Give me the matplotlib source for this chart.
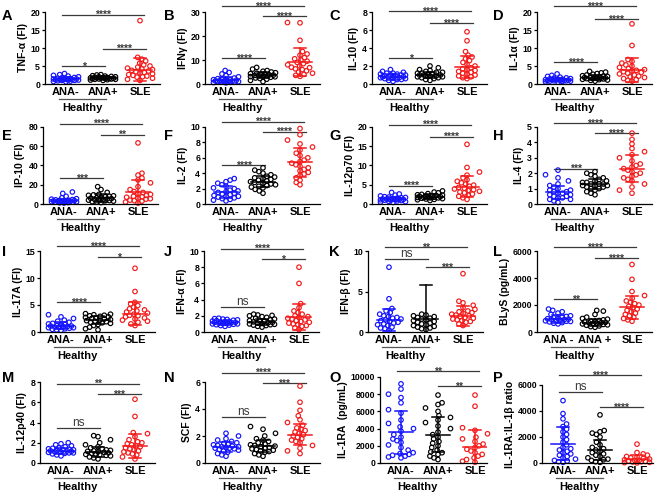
import numpy as np
import matplotlib
matplotlib.use('Agg')
import matplotlib.pyplot as plt

plt.rcParams['font.family'] = ['Liberation Sans', 'DejaVu Sans']
plt.rcParams['font.weight'] = 'bold'

# ---------------- data ----------------
xlabels = ["ANA-", "ANA+", "SLE"]
xlabels_L = ["ANA -", "ANA +", "SLE"]
group_label = "Healthy"

# A TNF-a
tnf_neg = [0.6,0.7,0.8,0.9,1.0,1.0,1.1,1.1,1.2,1.2,1.3,1.3,1.4,1.4,1.5,1.5,1.6,1.7,1.8,2.0,2.2,2.4,2.6,2.9]
tnf_pos = [1.0,1.1,1.2,1.3,1.3,1.4,1.4,1.5,1.5,1.5,1.6,1.6,1.7,1.7,1.8,1.8,1.9,2.0,2.0,2.1,2.2,2.3,2.5,2.6]
tnf_sle = [1.0,1.3,1.6,1.9,2.0,2.2,2.4,2.6,2.8,3.0,3.2,3.4,3.6,3.8,4.0,4.2,4.4,4.7,5.0,5.3,5.8,6.4,6.9,7.4,17.6]
tnf_mean = [1.3, 1.7, 4.0]
tnf_sd = [0.6, 0.4, 3.1]
tnf_sig = ['*', '****', '****']

# B IFN-g
ifng_neg = [0.5,0.6,0.7,0.8,0.9,1.0,1.0,1.1,1.2,1.2,1.3,1.4,1.5,1.6,1.7,1.8,2.0,2.2,2.5,3.0,3.5,4.2,4.8,5.6]
ifng_pos = [1.0,1.5,2.0,2.3,2.5,2.8,3.0,3.1,3.3,3.4,3.5,3.6,3.7,3.8,4.0,4.1,4.3,4.5,4.7,5.0,5.3,5.6,6.2,6.9]
ifng_sle = [3.2,3.6,4.0,4.5,5.0,5.5,6.0,6.3,6.8,7.0,7.5,8.0,8.5,9.0,9.5,10.0,10.5,11.0,12.0,12.5,13.5,18.2,25.5,25.6]
ifng_mean = [1.7, 3.6, 9.0]
ifng_sd = [1.2, 1.3, 5.8]
ifng_sig = ['****', '****', '****']

# C IL-10
il10_neg = [0.3,0.4,0.5,0.5,0.6,0.6,0.7,0.7,0.7,0.8,0.8,0.8,0.9,0.9,1.0,1.0,1.0,1.1,1.1,1.2,1.2,1.3,1.4,1.6]
il10_pos = [0.4,0.5,0.6,0.7,0.7,0.8,0.8,0.9,0.9,0.9,1.0,1.0,1.0,1.1,1.1,1.2,1.2,1.3,1.3,1.4,1.5,1.6,1.8,2.0]
il10_sle = [0.6,0.7,0.8,0.9,1.0,1.1,1.2,1.3,1.4,1.5,1.6,1.7,1.8,2.0,2.2,2.4,2.6,2.8,3.0,3.2,3.6,4.8,5.8]
il10_mean = [0.8, 1.0, 1.9]
il10_sd = [0.3, 0.35, 1.2]
il10_sig = ['*', '****', '****']

# D IL-1a
il1a_neg = [0.5,0.6,0.7,0.8,0.8,0.9,0.9,1.0,1.0,1.0,1.1,1.1,1.2,1.2,1.3,1.3,1.4,1.5,1.6,1.7,1.9,2.1,2.4,2.8]
il1a_pos = [0.8,1.0,1.1,1.2,1.3,1.4,1.5,1.5,1.6,1.6,1.7,1.8,1.8,1.9,2.0,2.1,2.2,2.3,2.5,2.7,2.9,3.1,3.3,3.5]
il1a_sle = [0.8,1.0,1.2,1.5,1.8,2.0,2.2,2.5,2.8,3.0,3.2,3.4,3.6,3.8,4.0,4.3,4.6,5.0,5.3,5.8,6.3,6.8,10.7,16.7]
il1a_mean = [1.2, 1.8, 3.8]
il1a_sd = [0.5, 0.6, 3.3]
il1a_sig = ['****', '****', '****']

# E IP-10
ip10_neg = [1.0,1.3,1.5,1.8,2.0,2.2,2.4,2.5,2.7,2.8,3.0,3.2,3.4,3.6,3.8,4.0,4.3,4.6,5.0,5.5,6.5,8.0,11.0,12.5]
ip10_pos = [1.5,2.0,2.5,3.0,3.3,3.6,4.0,4.3,4.6,5.0,5.3,5.6,6.0,6.5,7.0,7.5,8.0,8.5,9.0,9.5,10.0,12.0,15.0,18.0]
ip10_sle = [1.0,2.0,3.0,3.5,4.0,5.0,5.5,6.0,7.0,7.5,8.0,9.0,10.0,11.0,12.0,13.0,15.0,18.0,22.0,25.0,27.0,30.0,32.0,63.5]
ip10_mean = [3.0, 6.0, 12.0]
ip10_sd = [2.0, 4.0, 12.5]
ip10_sig = ['***', '**', '****']

# F IL-2
il2_neg = [0.4,0.5,0.6,0.7,0.8,0.9,1.0,1.0,1.1,1.2,1.3,1.4,1.5,1.6,1.7,1.8,2.0,2.1,2.3,2.5,2.7,2.9,3.1,3.3]
il2_pos = [1.4,1.7,1.9,2.1,2.2,2.3,2.4,2.5,2.6,2.7,2.8,2.9,3.0,3.1,3.2,3.3,3.4,3.5,3.6,3.8,4.0,4.2,4.4,4.7]
il2_sle = [2.5,2.8,3.1,3.4,3.7,3.9,4.1,4.3,4.5,4.7,4.9,5.1,5.3,5.5,5.7,6.0,6.3,6.6,7.0,7.4,7.8,8.3,9.0,9.8]
il2_mean = [1.6, 2.9, 5.4]
il2_sd = [0.8, 0.7, 1.9]
il2_sig = ['****', '****', '****']

# G IL-12p70
il12p70_neg = [0.4,0.5,0.6,0.7,0.8,0.9,1.0,1.0,1.1,1.1,1.2,1.2,1.3,1.3,1.4,1.5,1.6,1.7,1.8,1.9,2.1,2.3,2.6,3.0]
il12p70_pos = [0.9,1.1,1.2,1.3,1.4,1.5,1.6,1.6,1.7,1.7,1.8,1.8,1.9,2.0,2.0,2.1,2.2,2.3,2.4,2.5,2.7,2.9,3.1,3.4]
il12p70_sle = [1.2,1.6,2.0,2.3,2.6,2.9,3.1,3.3,3.5,3.7,3.9,4.1,4.3,4.6,4.9,5.2,5.5,5.9,6.3,6.8,7.5,8.3,9.5,15.5]
il12p70_mean = [1.3, 1.9, 4.5]
il12p70_sd = [0.6, 0.6, 2.8]
il12p70_sig = ['****', '****', '****']

# H IL-4
il4_neg = [0.1,0.2,0.3,0.3,0.4,0.4,0.5,0.5,0.6,0.6,0.7,0.7,0.8,0.8,0.9,0.9,1.0,1.1,1.2,1.3,1.5,1.7,1.9,2.2]
il4_pos = [0.6,0.7,0.8,0.9,1.0,1.0,1.1,1.1,1.2,1.2,1.2,1.3,1.3,1.3,1.4,1.4,1.5,1.5,1.6,1.7,1.8,1.9,2.0,2.1]
il4_sle = [0.7,0.9,1.1,1.3,1.5,1.6,1.7,1.8,1.9,2.0,2.1,2.2,2.3,2.4,2.5,2.6,2.8,3.0,3.2,3.4,3.6,3.9,4.2,4.6]
il4_mean = [0.75, 1.3, 2.3]
il4_sd = [0.45, 0.3, 0.9]
il4_sig = ['***', '****', '****']

# I IL-17A
il17a_neg = [0.3,0.4,0.5,0.6,0.7,0.8,0.8,0.9,0.9,1.0,1.0,1.1,1.1,1.2,1.3,1.4,1.5,1.6,1.8,2.0,2.2,2.5,2.8,3.2]
il17a_pos = [0.4,0.6,0.9,1.2,1.4,1.6,1.7,1.8,1.9,2.0,2.1,2.2,2.3,2.4,2.5,2.6,2.7,2.8,2.9,3.0,3.1,3.2,3.3,3.4]
il17a_sle = [1.2,1.5,1.8,2.0,2.2,2.4,2.6,2.8,3.0,3.1,3.3,3.5,3.7,3.9,4.1,4.3,4.6,4.9,5.2,5.5,7.5,11.8]
il17a_mean = [1.2, 2.2, 3.4]
il17a_sd = [0.6, 0.7, 2.1]
il17a_sig = ['****', '*', '****']

# J IFN-a
ifna_neg = [0.7,0.8,0.85,0.9,0.95,1.0,1.0,1.05,1.1,1.1,1.15,1.2,1.2,1.25,1.3,1.3,1.35,1.4,1.45,1.5,1.55,1.6,1.65,1.7]
ifna_pos = [0.6,0.7,0.8,0.85,0.9,0.95,1.0,1.05,1.1,1.15,1.2,1.25,1.3,1.35,1.4,1.5,1.6,1.7,1.8,1.9,2.0,2.05,2.1,2.2]
ifna_sle = [0.3,0.5,0.7,0.8,0.9,1.0,1.1,1.2,1.3,1.4,1.5,1.6,1.7,1.8,1.9,2.0,2.2,2.4,2.6,3.0,3.5,6.0,8.0]
ifna_mean = [1.15, 1.25, 1.8]
ifna_sd = [0.25, 0.4, 1.6]
ifna_sig = ['ns', '*', '****']

# K IFN-b
ifnb_neg = [0.2,0.4,0.5,0.6,0.8,0.9,1.0,1.1,1.2,1.3,1.4,1.5,1.6,1.7,1.8,1.9,2.0,2.2,2.4,2.6,2.9,4.1,8.0]
ifnb_pos = [0.3,0.4,0.5,0.6,0.7,0.8,0.9,1.0,1.1,1.2,1.3,1.4,1.5,1.6,1.7,1.8,1.9,2.0,2.1,2.2]
ifnb_sle = [0.8,1.0,1.2,1.3,1.4,1.5,1.6,1.7,1.8,1.9,2.0,2.1,2.2,2.3,2.4,2.5,2.6,2.8,3.0,3.3,3.6,3.8,7.2]
ifnb_mean = [1.5, 1.6, 2.0]
ifnb_sd = [1.4, 4.2, 1.2]
ifnb_sig = ['ns', '***', '**']

# L BLyS
blys_neg = [600,650,700,750,780,800,830,850,880,900,920,950,980,1000,1050,1100,1150,1200,1300,1400,1500,1600,1700]
blys_pos = [350,400,450,500,530,560,600,620,650,680,700,720,750,780,800,850,900,950,1000,1100,1300,1550,1600]
blys_sle = [800,900,1000,1100,1200,1300,1400,1500,1600,1700,1800,1900,2000,2100,2200,2300,2500,2700,3000,3900,5000]
blys_mean = [950, 700, 1850]
blys_sd = [300, 250, 850]
blys_sig = ['**', '****', '****']

# M IL-12p40
il12p40_neg = [0.7,0.8,0.9,0.95,1.0,1.0,1.05,1.1,1.1,1.15,1.2,1.2,1.25,1.3,1.3,1.35,1.4,1.45,1.5,1.6,1.7,1.8,1.9,2.0]
il12p40_pos = [0.4,0.5,0.6,0.7,0.75,0.8,0.85,0.9,0.95,1.0,1.05,1.1,1.15,1.2,1.25,1.3,1.4,1.5,1.6,1.8,2.0,2.3,2.6,2.7]
il12p40_sle = [0.4,0.6,0.8,0.9,1.0,1.1,1.2,1.3,1.4,1.5,1.6,1.7,1.8,1.9,2.0,2.1,2.3,2.6,2.9,3.0,4.6,6.3]
il12p40_mean = [1.2, 1.1, 1.7]
il12p40_sd = [0.3, 0.5, 1.2]
il12p40_sig = ['ns', '***', '**']

# N SCF
scf_neg = [0.5,0.6,0.7,0.8,0.9,0.95,1.0,1.05,1.1,1.1,1.15,1.2,1.2,1.25,1.3,1.35,1.4,1.45,1.5,1.6,1.7,1.8,2.0,2.2]
scf_pos = [0.5,0.6,0.7,0.8,0.85,0.9,0.95,1.0,1.05,1.1,1.15,1.2,1.25,1.3,1.35,1.4,1.5,1.6,1.7,1.8,2.0,2.2,2.5,2.7]
scf_sle = [0.7,0.9,1.1,1.3,1.5,1.6,1.7,1.8,1.9,2.0,2.1,2.2,2.3,2.4,2.5,2.6,2.8,3.0,3.2,3.5,3.9,4.5,5.7]
scf_mean = [1.2, 1.25, 2.1]
scf_sd = [0.35, 0.45, 0.8]
scf_sig = ['ns', '***', '****']

# O IL-1RA
il1ra_neg = [600,700,800,900,1000,1100,1200,1500,1800,2100,2400,2600,2800,3000,3300,3700,4000,4200,4600,5000,5800,6200,7000,7600,8000,8600,9200]
il1ra_pos = [400,600,800,1000,1200,1300,1500,1800,2000,2300,2500,2800,3000,3300,3600,4000,4300,4700,5000,5300,5500,6000,6400,6800,7000,7900]
il1ra_sle = [100,200,400,600,800,1000,1200,1400,1600,1800,2000,2200,2500,2800,3000,3400,3800,4100,6600,7900]
il1ra_mean = [3600, 3300, 1850]
il1ra_sd = [2500, 2000, 1950]
il1ra_sig = [None, '**', '**']

# P IL-1RA:IL-1b ratio
ratio_neg = [50,100,150,200,300,400,500,600,700,800,900,1000,1100,1200,1400,1600,1800,2000,2200,2400,2600,2800,3000,3400,3800,4800]
ratio_pos = [50,100,200,250,300,400,500,600,700,800,900,1000,1100,1200,1400,1600,2000,2200,2300,2400,2500,3700]
ratio_sle = [10,30,50,80,100,120,150,180,200,250,300,350,400,450,500,600,700,800,1450]
ratio_mean = [1500, 1000, 300]
ratio_sd = [1250, 800, 300]
ratio_sig = ['ns', '****', '****']

# ---------------- figure ----------------
W, H = 660, 496
fig = plt.figure(figsize=(W / 100, H / 100), dpi=100)
colors = ['#1414ff', '#000000', '#f41a1a']
sig_color = '#3a3a3a'
UNIT = 37.0


def swarm_offsets(vals, ymax, axh, d=4.4, maxhw_px=12.5):
    """Beeswarm placement in pixel space; returns x offsets in data units."""
    v = np.asarray(vals, float)
    ypx = v / ymax * axh
    order = np.argsort(v, kind='stable')
    px, py = [], []
    xs = np.zeros(len(v))
    side = 1
    for i in order:
        y = ypx[i]
        cands = [0.0]
        for (qx, qy) in zip(px, py):
            dy = abs(qy - y)
            if dy < d:
                dx = np.sqrt(d * d - dy * dy)
                cands += [qx + dx, qx - dx]
        cands = sorted(set(round(c, 3) for c in cands), key=lambda c: (abs(c), -side * c))
        chosen = None
        for c in cands:
            if abs(c) > maxhw_px:
                continue
            if all((c - qx) ** 2 + (y - qy) ** 2 >= d * d - 1e-6 for qx, qy in zip(px, py)):
                chosen = c
                break
        if chosen is None:
            grid = np.linspace(-maxhw_px, maxhw_px, 13)
            best, bestd = 0.0, -1
            for g in grid:
                md = min([(g - qx) ** 2 + (y - qy) ** 2 for qx, qy in zip(px, py)] + [1e9])
                if md > bestd:
                    best, bestd = g, md
            chosen = best
        side = -side
        px.append(chosen)
        py.append(y)
        xs[i] = chosen / UNIT
    return xs


def panel(letter, ylabel, groups, means, sds, sigs, ymax, yticks, left, top, bottom,
          width, bars, letter_xy, xl=xlabels):
    axh = bottom - top
    ax = fig.add_axes([left / W, (H - bottom) / H, width / W, axh / H])
    x0 = -21.0 / UNIT
    ax.set_xlim(x0, x0 + width / UNIT)
    ax.set_ylim(0, ymax)
    for sp in ['top', 'right']:
        ax.spines[sp].set_visible(False)
    for sp in ['left', 'bottom']:
        ax.spines[sp].set_linewidth(0.9)
    ax.set_yticks(yticks)
    ax.set_yticklabels([str(t) for t in yticks], fontsize=6.3, fontweight='bold')
    ax.tick_params(axis='y', length=2.5, width=0.9, pad=1)
    ax.set_xticks([0, 1, 2])
    ax.set_xticklabels(xl, fontsize=8, fontweight='bold')
    ax.tick_params(axis='x', length=0, pad=2)
    ax.set_ylabel(ylabel, fontsize=7.5, fontweight='bold', labelpad=2)
    for gi, vals in enumerate(groups):
        xs = swarm_offsets(vals, ymax, axh) + gi
        ax.scatter(xs, vals, s=10.5, facecolors='none', edgecolors=colors[gi],
                   linewidths=0.85, clip_on=False, zorder=2)
        m, s = means[gi], sds[gi]
        lo = max(0, m - s)
        ax.plot([gi - 0.33, gi + 0.33], [m, m], color=colors[gi], lw=1.1, zorder=3)
        ax.plot([gi, gi], [lo, m + s], color=colors[gi], lw=1.1, zorder=3)
        ax.plot([gi - 0.15, gi + 0.15], [m + s, m + s], color=colors[gi], lw=1.1, zorder=3)
        if m - s > 0:
            ax.plot([gi - 0.15, gi + 0.15], [lo, lo], color=colors[gi], lw=1.1, zorder=3)
    pairs = [(-0.1, 1.05), (1.0, 2.15), (-0.1, 2.1)]
    for (xa, xb), lab, yb in zip(pairs, sigs, bars):
        if lab is None:
            continue
        ax.plot([xa, xb], [yb, yb], color=sig_color, lw=0.9, clip_on=False, zorder=1)
        if lab == 'ns':
            ax.annotate(lab, xy=((xa + xb) / 2, yb), xytext=(0, 1.2), textcoords='offset points',
                        ha='center', va='baseline', fontsize=8.5, fontweight='normal',
                        color=sig_color, annotation_clip=False)
        else:
            ax.annotate(lab, xy=((xa + xb) / 2, yb), xytext=(0, -2.6), textcoords='offset points',
                        ha='center', va='baseline', fontsize=7.5, fontweight='bold',
                        color=sig_color, annotation_clip=False)
    # Healthy bracket
    ax.plot([-0.2, 1.07], [-15.0 / axh, -15.0 / axh], color='#555555', lw=0.9,
            transform=ax.get_xaxis_transform(), clip_on=False)
    ax.text(0.45, -24.0 / axh, group_label, transform=ax.get_xaxis_transform(),
            ha='center', va='center', fontsize=8, fontweight='bold')
    fig.text(letter_xy[0] / W, 1 - letter_xy[1] / H, letter, fontsize=10.5,
             fontweight='bold', ha='left', va='baseline')
    return ax


R1 = (12, 84)
R2 = (127, 204)
R3 = (251, 332)
R4 = (382, 463)

panel('A', 'TNF-α (FI)', [tnf_neg, tnf_pos, tnf_sle], tnf_mean, tnf_sd, tnf_sig,
      20, [0, 5, 10, 15, 20], 45, *R1, 115, [4.9, 9.8, 19.3], (2, 20))
panel('B', 'IFNγ (FI)', [ifng_neg, ifng_pos, ifng_sle], ifng_mean, ifng_sd, ifng_sig,
      30, [0, 10, 20, 30], 205, *R1, 115, [10.8, 28.3, 32.3], (164, 20))
panel('C', 'IL-10 (FI)', [il10_neg, il10_pos, il10_sle], il10_mean, il10_sd, il10_sig,
      8, [0, 2, 4, 6, 8], 372, *R1, 115, [2.9, 6.8, 8.1], (329, 20))
panel('D', 'IL-1α (FI)', [il1a_neg, il1a_pos, il1a_sle], il1a_mean, il1a_sd, il1a_sig,
      20, [0, 5, 10, 15, 20], 537, *R1, 115, [6.0, 18.0, 21.7], (493, 20))

panel('E', 'IP-10 (FI)', [ip10_neg, ip10_pos, ip10_sle], ip10_mean, ip10_sd, ip10_sig,
      80, [0, 20, 40, 60, 80], 43, *R2, 115, [27, 72, 83.5], (2, 140))
panel('F', 'IL-2 (FI)', [il2_neg, il2_pos, il2_sle], il2_mean, il2_sd, il2_sig,
      10, [0, 2, 4, 6, 8, 10], 205, *R2, 115, [5.0, 9.4, 10.7], (164, 140))
panel('G', 'IL-12p70 (FI)', [il12p70_neg, il12p70_pos, il12p70_sle], il12p70_mean, il12p70_sd,
      il12p70_sig, 20, [0, 5, 10, 15, 20], 372, *R2, 115, [4.8, 17.5, 20.6], (329, 140))
panel('H', 'IL-4 (FI)', [il4_neg, il4_pos, il4_sle], il4_mean, il4_sd, il4_sig,
      5, [0, 1, 2, 3, 4, 5], 537, *R2, 115, [2.3, 4.6, 5.25], (493, 140))

panel('I', 'IL-17A (FI)', [il17a_neg, il17a_pos, il17a_sle], il17a_mean, il17a_sd, il17a_sig,
      15, [0, 5, 10, 15], 40, *R3, 115, [5.5, 13.8, 15.9], (2, 256))
panel('J', 'IFN-α (FI)', [ifna_neg, ifna_pos, ifna_sle], ifna_mean, ifna_sd, ifna_sig,
      10, [0, 2, 4, 6, 8, 10], 204, *R3, 115, [3.1, 9.0, 10.3], (164, 256))
panel('K', 'IFN-β (FI)', [ifnb_neg, ifnb_pos, ifnb_sle], ifnb_mean, ifnb_sd, ifnb_sig,
      10, [0, 5, 10], 368, *R3, 115, [9.0, 8.0, 10.5], (329, 256))
panel('L', 'BLyS (pg/mL)', [blys_neg, blys_pos, blys_sle], blys_mean, blys_sd, blys_sig,
      6000, [0, 2000, 4000, 6000], 537, *R3, 115, [2450, 5450, 6300], (493, 256),
      xl=xlabels_L)

panel('M', 'IL-12p40 (FI)', [il12p40_neg, il12p40_pos, il12p40_sle], il12p40_mean, il12p40_sd,
      il12p40_sig, 8, [0, 2, 4, 6, 8], 40, *R4, 115, [3.45, 6.8, 7.85], (2, 382))
panel('N', 'SCF (FI)', [scf_neg, scf_pos, scf_sle], scf_mean, scf_sd, scf_sig,
      6, [0, 2, 4, 6], 205, *R4, 115, [3.4, 5.9, 6.7], (164, 382))
panel('O', 'IL-1RA  (pg/mL)', [il1ra_neg, il1ra_pos, il1ra_sle], il1ra_mean, il1ra_sd, il1ra_sig,
      10000, [0, 2000, 4000, 6000, 8000, 10000], 380, 377, 463, 107, [0, 8900, 10700], (329, 382))
panel('P', 'IL-1RA:IL-1β ratio', [ratio_neg, ratio_pos, ratio_sle], ratio_mean, ratio_sd, ratio_sig,
      6000, [0, 2000, 4000, 6000], 542, 385, 463, 111, [5500, 4300, 6750], (493, 382))

fig.savefig('out.png', dpi=100)
